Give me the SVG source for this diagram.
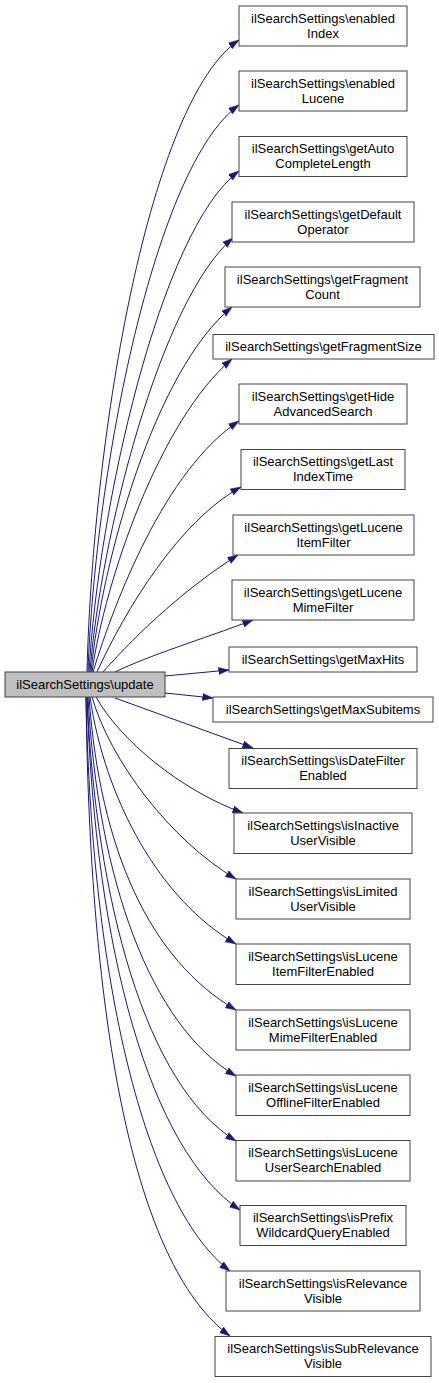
<svg xmlns="http://www.w3.org/2000/svg" width="439" height="1383" viewBox="0 0 439 1383">
<style>
.n rect{fill:#ffffff;stroke:#444444;stroke-width:1}
.root rect{fill:#bfbfbf;stroke:#404040;stroke-width:1}
text{font-family:"Liberation Sans",Arial,Helvetica,sans-serif;font-size:13px;fill:#000000;text-anchor:middle}
.e path{fill:none;stroke:#191970;stroke-width:1;marker-end:url(#arr)}
</style>
<defs>
<marker id="arr" markerUnits="userSpaceOnUse" markerWidth="11" markerHeight="8" viewBox="0 0 11 8" refX="10.5" refY="4" orient="auto">
<path d="M0,0.5 L10.5,4 L0,7.5 z" fill="#191970" stroke="#191970" stroke-width="0.5"/>
</marker>
</defs>
<rect width="439" height="1383" fill="#ffffff"/>
<g id="connectors" class="e">
<path d="M87,672 C93,430 150,100 239,40"/>
<path d="M88,672 C95,470 155,165 239,105"/>
<path d="M89,672 C98,510 160,230 239,171"/>
<path d="M90,672 C100,540 160,300 233,238"/>
<path d="M91,672 C102,560 155,370 232,307"/>
<path d="M92,672 C105,580 160,420 232,359"/>
<path d="M93,672 C115,600 165,470 239,421"/>
<path d="M97,672 C125,610 180,520 241,487"/>
<path d="M103,672 C140,630 190,585 238,555"/>
<path d="M115,672 C150,655 200,640 253,620"/>
<path d="M165,676 L229,670"/>
<path d="M165,693 L213,698"/>
<path d="M115,698 L253,748"/>
<path d="M96,697 C120,740 180,790 243,813"/>
<path d="M92,697 C110,760 170,840 236,879"/>
<path d="M90,697 C105,800 160,900 236,944"/>
<path d="M89,697 C100,850 150,960 236,1010"/>
<path d="M88,697 C98,880 150,1025 236,1076"/>
<path d="M87,697 C96,900 145,1085 236,1141"/>
<path d="M87,697 C95,950 150,1150 240,1210"/>
<path d="M86,697 C92,1000 150,1210 230,1271"/>
<path d="M86,697 C90,1050 140,1270 230,1336"/>
</g>
<g id="root" class="root"><rect x="5" y="672" width="160" height="25"/><text x="85" y="689">ilSearchSettings\update</text></g>
<g id="n0" class="n"><rect x="239" y="6" width="168" height="40"/><text x="323" y="22.5">ilSearchSettings\enabled</text><text x="323" y="37.5">Index</text></g>
<g id="n1" class="n"><rect x="239" y="71" width="168" height="40"/><text x="323" y="87.5">ilSearchSettings\enabled</text><text x="323" y="102.5">Lucene</text></g>
<g id="n2" class="n"><rect x="239" y="136.5" width="168" height="40"/><text x="323" y="153">ilSearchSettings\getAuto</text><text x="323" y="168">CompleteLength</text></g>
<g id="n3" class="n"><rect x="232" y="202" width="182" height="40"/><text x="323" y="218.5">ilSearchSettings\getDefault</text><text x="323" y="233.5">Operator</text></g>
<g id="n4" class="n"><rect x="225" y="267" width="195" height="40"/><text x="322.5" y="283.5">ilSearchSettings\getFragment</text><text x="322.5" y="298.5">Count</text></g>
<g id="n5" class="n"><rect x="213" y="334.5" width="221" height="24.5"/><text x="323.5" y="351">ilSearchSettings\getFragmentSize</text></g>
<g id="n6" class="n"><rect x="239" y="384" width="168" height="40"/><text x="323" y="400.5">ilSearchSettings\getHide</text><text x="323" y="415.5">AdvancedSearch</text></g>
<g id="n7" class="n"><rect x="241" y="449.5" width="164" height="40"/><text x="323" y="466">ilSearchSettings\getLast</text><text x="323" y="481">IndexTime</text></g>
<g id="n8" class="n"><rect x="233" y="515" width="181" height="40"/><text x="323.5" y="531.5">ilSearchSettings\getLucene</text><text x="323.5" y="546.5">ItemFilter</text></g>
<g id="n9" class="n"><rect x="232" y="580" width="182" height="40"/><text x="323" y="596.5">ilSearchSettings\getLucene</text><text x="323" y="611.5">MimeFilter</text></g>
<g id="n10" class="n"><rect x="229" y="647" width="188" height="25"/><text x="323" y="664">ilSearchSettings\getMaxHits</text></g>
<g id="n11" class="n"><rect x="213" y="697" width="220" height="25"/><text x="323" y="714">ilSearchSettings\getMaxSubitems</text></g>
<g id="n12" class="n"><rect x="229" y="748.5" width="188" height="40"/><text x="323" y="765">ilSearchSettings\isDateFilter</text><text x="323" y="780">Enabled</text></g>
<g id="n13" class="n"><rect x="234" y="813" width="178" height="40.5"/><text x="323" y="829.5">ilSearchSettings\isInactive</text><text x="323" y="844.5">UserVisible</text></g>
<g id="n14" class="n"><rect x="236" y="879" width="174" height="40"/><text x="323" y="895.5">ilSearchSettings\isLimited</text><text x="323" y="910.5">UserVisible</text></g>
<g id="n15" class="n"><rect x="236" y="944" width="174" height="40.5"/><text x="323" y="960.5">ilSearchSettings\isLucene</text><text x="323" y="975.5">ItemFilterEnabled</text></g>
<g id="n16" class="n"><rect x="236" y="1010" width="174" height="40"/><text x="323" y="1026.5">ilSearchSettings\isLucene</text><text x="323" y="1041.5">MimeFilterEnabled</text></g>
<g id="n17" class="n"><rect x="236" y="1075" width="174" height="40.5"/><text x="323" y="1091.5">ilSearchSettings\isLucene</text><text x="323" y="1106.5">OfflineFilterEnabled</text></g>
<g id="n18" class="n"><rect x="236" y="1140.5" width="174" height="40.5"/><text x="323" y="1157">ilSearchSettings\isLucene</text><text x="323" y="1172">UserSearchEnabled</text></g>
<g id="n19" class="n"><rect x="240" y="1205.5" width="166" height="40"/><text x="323" y="1222">ilSearchSettings\isPrefix</text><text x="323" y="1237">WildcardQueryEnabled</text></g>
<g id="n20" class="n"><rect x="226" y="1271" width="194" height="40"/><text x="323" y="1287.5">ilSearchSettings\isRelevance</text><text x="323" y="1302.5">Visible</text></g>
<g id="n21" class="n"><rect x="215" y="1336.5" width="216" height="40"/><text x="323" y="1353">ilSearchSettings\isSubRelevance</text><text x="323" y="1368">Visible</text></g>
</svg>
